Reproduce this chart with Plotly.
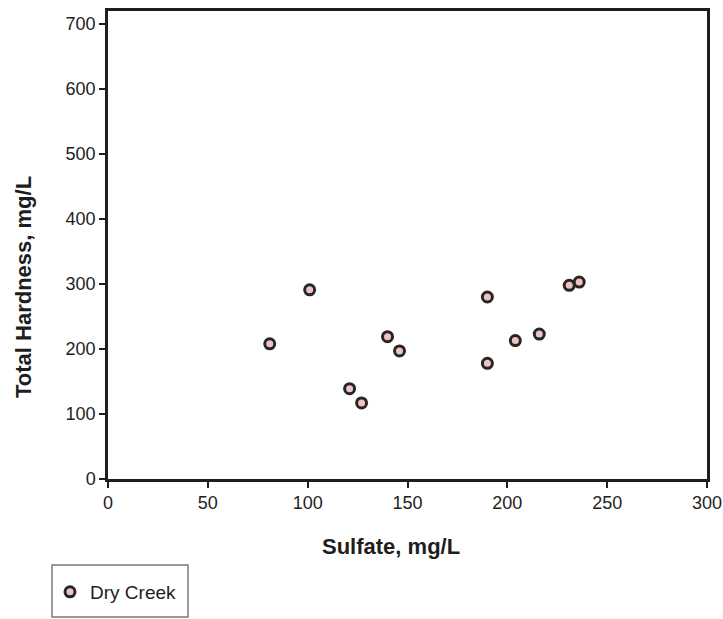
import plotly.graph_objects as go

# Data
sulfate = [81, 101, 121, 127, 140, 146, 190, 190, 204, 216, 231, 236]
hardness = [208, 291, 139, 117, 219, 197, 280, 178, 213, 223, 298, 303]
series_name = "Dry Creek"
x_ticks = [0, 50, 100, 150, 200, 250, 300]
y_ticks = [0, 100, 200, 300, 400, 500, 600, 700]
x_title = "Sulfate, mg/L"
y_title = "Total Hardness, mg/L"

W, H = 723, 619
L, R, T, B = 108, 16, 11, 140
pw = W - L - R
ph = H - T - B

def px_x(px):
    return (px - L) / pw

def px_y(py):
    return (H - B - py) / ph

FONT = "Arial, Liberation Sans, sans-serif"
INK = "#1e1e1e"

fig = go.Figure()
fig.add_trace(go.Scatter(
    x=sulfate, y=hardness, mode="markers", name=series_name,
    marker=dict(symbol="circle", size=10, color="#efc3c3",
                line=dict(color="#262626", width=3)),
))

fig.update_layout(
    width=W, height=H,
    margin=dict(l=L, r=R, t=T, b=B, pad=0, autoexpand=False),
    paper_bgcolor="white", plot_bgcolor="white",
    font=dict(family=FONT, color=INK),
    showlegend=True,
    legend=dict(x=px_x(50), y=px_y(573), xanchor="left", yanchor="top",
                bgcolor="rgba(0,0,0,0)", borderwidth=0,
                font=dict(size=19, family=FONT, color=INK)),
    xaxis=dict(range=[0, 300], tickvals=x_ticks, ticks="outside", ticklen=6,
               tickwidth=2, tickcolor=INK, showline=True, linecolor=INK,
               linewidth=2.5, mirror=True, showgrid=False, zeroline=False,
               ticklabeloverflow="allow", automargin=False,
               tickfont=dict(size=18, family=FONT, color=INK)),
    yaxis=dict(range=[0, 720], tickvals=y_ticks, ticks="outside", ticklen=6,
               tickwidth=2, tickcolor=INK, showline=True, linecolor=INK,
               linewidth=2.5, mirror=True, showgrid=False, zeroline=False,
               ticklabeloverflow="allow", automargin=False,
               tickfont=dict(size=18, family=FONT, color=INK)),
    annotations=[
        dict(text=x_title, xref="paper", yref="paper", x=px_x(391), y=px_y(546),
             xanchor="center", yanchor="middle", showarrow=False,
             font=dict(size=22, family=FONT, color=INK, weight="bold")),
        dict(text=y_title, xref="paper", yref="paper", x=px_x(23), y=px_y(287),
             xanchor="center", yanchor="middle", showarrow=False, textangle=-90,
             font=dict(size=22, family=FONT, color=INK, weight="bold")),
    ],
    shapes=[
        dict(type="rect", xref="paper", yref="paper",
             x0=px_x(52), x1=px_x(188), y0=px_y(617), y1=px_y(565),
             line=dict(color="#7a7a7a", width=1.5), fillcolor="rgba(0,0,0,0)"),
    ],
)

fig.write_html("out.html")
